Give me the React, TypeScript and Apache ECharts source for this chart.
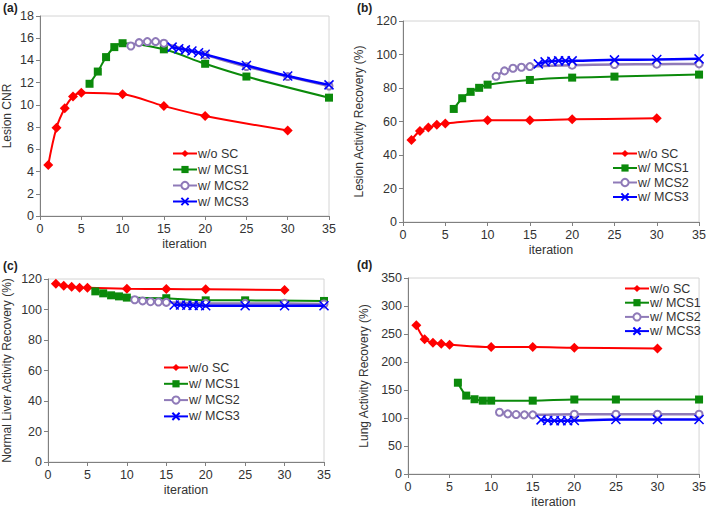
import React, { useEffect, useRef } from "react";
import * as echarts from "echarts";

const seriesNames = ["w/o SC", "w/ MCS1", "w/ MCS2", "w/ MCS3"];
const xNoSC = [1, 2, 3, 4, 5, 10, 15, 20, 30];
const xMCS1 = [6, 7, 8, 9, 10, 15, 20, 25, 35];
const xMCS2 = [11, 12, 13, 14, 15, 20, 25, 30, 35];
const xMCS3 = [16, 16.8, 17.6, 18.4, 19.2, 20, 25, 30, 35];

// (a) Lesion CNR
const aNoSC = [4.6, 7.95, 9.7, 10.75, 11.1, 10.95, 9.9, 9.0, 7.7];
const aMCS1 = [11.9, 13.0, 14.3, 15.2, 15.55, 15.0, 13.7, 12.55, 10.65];
const aMCS2 = [15.3, 15.6, 15.7, 15.7, 15.55, 14.5, 13.45, 12.55, 11.7];
const aMCS3 = [15.2, 15.05, 14.95, 14.85, 14.7, 14.55, 13.55, 12.6, 11.8];

// (b) Lesion Activity Recovery
const bNoSC = [48.9, 54.4, 56.4, 58.0, 58.8, 60.8, 60.8, 61.3, 61.9];
const bMCS1 = [67.5, 73.9, 77.7, 80.1, 82.0, 84.8, 86.2, 86.8, 88.0];
const bMCS2 = [87.0, 90.2, 91.8, 92.4, 92.8, 93.6, 94.0, 94.2, 94.4];
const bMCS3 = [94.4, 95.6, 96.0, 96.2, 96.2, 96.2, 96.8, 97.0, 97.4];

// (c) Normal Liver Activity Recovery
const cNoSC = [116.9, 115.6, 115.0, 114.3, 114.2, 113.6, 113.4, 113.3, 112.8];
const cMCS1 = [111.9, 110.6, 109.3, 108.6, 107.8, 107.4, 106.0, 106.0, 105.6];
const cMCS2 = [106.4, 105.6, 105.1, 104.9, 104.7, 104.0, 104.0, 104.0, 103.6];
const cMCS3 = [103.0, 102.9, 102.8, 102.7, 102.6, 102.5, 102.5, 102.5, 102.4];

// (d) Lung Activity Recovery
const dNoSC = [265.7, 240.8, 234.3, 232.5, 230.7, 226.6, 226.6, 225.4, 224.2];
const dMCS1 = [163.0, 140.0, 133.5, 131.0, 131.0, 131.0, 133.0, 133.0, 133.0];
const dMCS2 = [110.3, 107.4, 106.2, 105.6, 105.6, 106.8, 106.8, 106.8, 106.8];
const dMCS3 = [96.7, 95.5, 95.0, 95.0, 95.0, 95.5, 97.3, 97.3, 97.3];

const panelLabels = ["(a)", "(b)", "(c)", "(d)"];
const yNames = [
  "Lesion CNR",
  "Lesion Activity Recovery (%)",
  "Normal Liver Activity Recovery (%)",
  "Lung Activity Recovery (%)",
];
const yMax = [18, 120, 120, 350];
const yInterval = [2, 20, 20, 50];

const xs = [xNoSC, xMCS1, xMCS2, xMCS3];
const panels = [
  [aNoSC, aMCS1, aMCS2, aMCS3],
  [bNoSC, bMCS1, bMCS2, bMCS3],
  [cNoSC, cMCS1, cMCS2, cMCS3],
  [dNoSC, dMCS1, dMCS2, dMCS3],
];

const COLORS = ["#ff0000", "#0b8a0b", "#8f7ab8", "#0000ff"];
const CROSS = "path://M0,0L10,10M10,0L0,10";

export default function App() {
  const ref = useRef<HTMLDivElement>(null);
  useEffect(() => {
    document.body.style.margin = "0";
    const chart = echarts.init(ref.current!, null, { renderer: "svg" });
    const font = "'Liberation Sans', Arial, sans-serif";
    const grids = [
      { left: 39, top: 16, width: 290, height: 200 },
      { left: 403, top: 21, width: 297, height: 201 },
      { left: 44, top: 279, width: 280, height: 183 },
      { left: 408, top: 278, width: 292, height: 196 },
    ];
    const yNameGap = [27, 38, 35, 38];
    const legendPos = [
      { left: 172, top: 147, itemGap: 3 },
      { left: 612, top: 147, itemGap: 1.5 },
      { left: 163, top: 361, itemGap: 3.3 },
      { left: 624, top: 282, itemGap: 1.2 },
    ];
    const labelPos = [
      [3, 2],
      [357, 2],
      [3, 260],
      [357, 259],
    ];
    const symbolFor = (k: number) => {
      if (k === 0) return { symbol: "diamond", symbolSize: 10 };
      if (k === 1) return { symbol: "rect", symbolSize: 8 };
      if (k === 2) return { symbol: "emptyCircle", symbolSize: 7 };
      return { symbol: CROSS, symbolSize: 9 };
    };
    const series: any[] = [];
    panels.forEach((pan, p) => {
      pan.forEach((vals, k) => {
        const s = symbolFor(k);
        series.push({
          type: "line",
          name: seriesNames[k],
          xAxisIndex: p,
          yAxisIndex: p,
          data: xs[k].map((x, i) => [x, vals[i]]),
          smooth: 0.35,
          symbol: s.symbol,
          symbolSize: s.symbolSize,
          showAllSymbol: true,
          lineStyle: { color: COLORS[k], width: k >= 2 ? 2.5 : 2 },
          itemStyle:
            k === 3
              ? { color: COLORS[k], borderColor: COLORS[k], borderWidth: 1.5 }
              : k === 2
              ? { color: COLORS[k], borderColor: COLORS[k], borderWidth: 1.2 }
              : { color: COLORS[k] },
          z: 2 + k,
        });
      });
    });
    chart.setOption({
      animation: false,
      textStyle: { fontFamily: font },
      grid: grids.map((g) => ({ ...g, show: true, borderColor: "#d4d4d4", borderWidth: 1, containLabel: false })),
      xAxis: grids.map((_, i) => ({
        type: "value",
        gridIndex: i,
        min: 0,
        max: 35,
        interval: 5,
        name: "iteration",
        nameLocation: "middle",
        nameGap: 21,
        nameTextStyle: { fontSize: 12.5, color: "#333", fontFamily: font },
        axisLine: { show: true, onZero: false, lineStyle: { color: "#808080", width: 1 } },
        axisTick: { show: true, length: 4, lineStyle: { color: "#808080" } },
        axisLabel: { fontSize: 12.5, color: "#333", margin: 6, fontFamily: font },
        splitLine: { show: false },
      })),
      yAxis: grids.map((_, i) => ({
        type: "value",
        gridIndex: i,
        min: 0,
        max: yMax[i],
        interval: yInterval[i],
        name: yNames[i],
        nameLocation: "middle",
        nameGap: yNameGap[i],
        nameTextStyle: { fontSize: 12, color: "#333", fontFamily: font },
        axisLine: { show: true, lineStyle: { color: "#808080", width: 1 } },
        axisTick: { show: true, length: 4, lineStyle: { color: "#808080" } },
        axisLabel: { fontSize: 12.5, color: "#333", margin: 6, fontFamily: font },
        splitLine: { show: false },
      })),
      legend: legendPos.map((l) => ({
        orient: "vertical",
        left: l.left,
        top: l.top,
        itemGap: l.itemGap,
        itemWidth: 24,
        itemHeight: 9,
        data: seriesNames,
        textStyle: { fontSize: 12.5, color: "#333", padding: [0, 0, 0, -4], fontFamily: font },
        padding: 0,
        selectedMode: false,
      })),
      graphic: panelLabels.map((t, i) => ({
        type: "text",
        left: labelPos[i][0],
        top: labelPos[i][1],
        style: { text: t, fontSize: 12, fontWeight: "bold", fill: "#222", fontFamily: font },
      })),
      series,
    });
    return () => chart.dispose();
  }, []);
  return <div ref={ref} style={{ width: 709, height: 509 }} />;
}
